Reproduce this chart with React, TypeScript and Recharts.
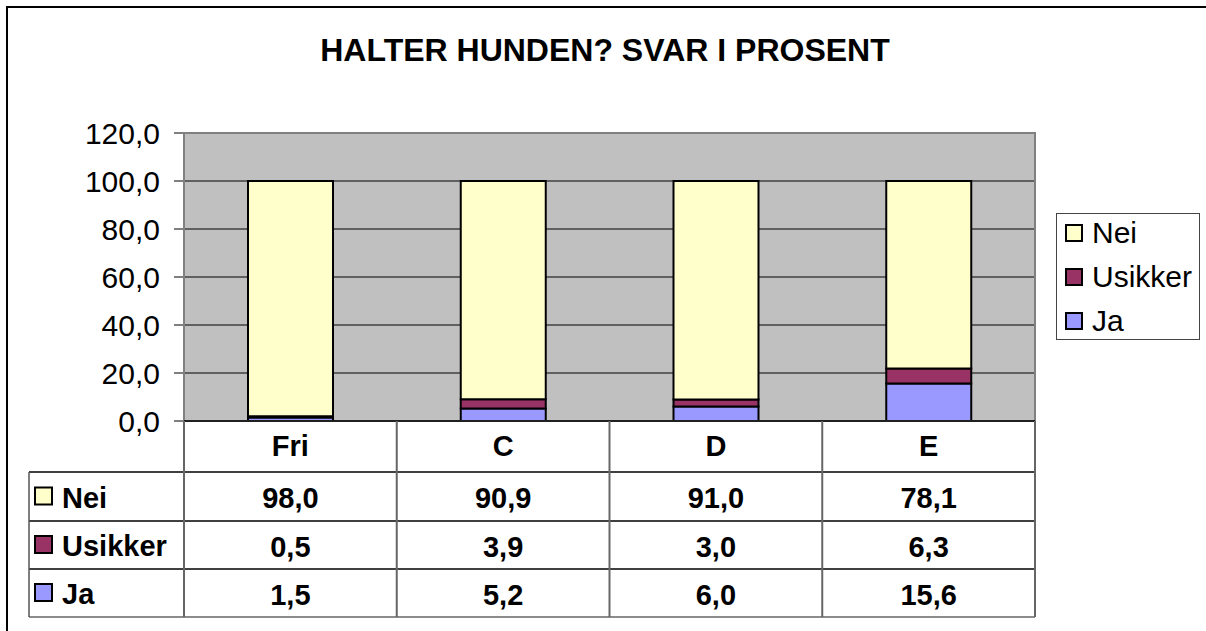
import React from 'react';
import { BarChart, Bar, XAxis, YAxis, CartesianGrid, Legend } from 'recharts';

const categories = ['Fri', 'C', 'D', 'E'];
const neiValues = [98.0, 90.9, 91.0, 78.1];
const usikkerValues = [0.5, 3.9, 3.0, 6.3];
const jaValues = [1.5, 5.2, 6.0, 15.6];
const yTicks = [0, 20, 40, 60, 80, 100, 120];

// stacked bottom -> top
const series = [
  { key: 'ja', name: 'Ja', color: '#9999ff', values: jaValues },
  { key: 'usikker', name: 'Usikker', color: '#993366', values: usikkerValues },
  { key: 'nei', name: 'Nei', color: '#ffffcc', values: neiValues },
];

const data = categories.map((name, i) => {
  const row: Record<string, string | number> = { name };
  series.forEach((s) => (row[s.key] = s.values[i]));
  return row;
});

const W = 1206;
const H = 631;
const PLOT = { left: 184, right: 1035, top: 133, bottom: 421 };
const TABLE_LEFT = 29;
const ROW_LINES = [472, 521, 569, 617];
const FONT = '"Liberation Sans", Arial, sans-serif';
const BOLD_SIZE = 29;
const TEXT_SIZE = 30;

const fmt = (v: number) => v.toFixed(1).replace('.', ',');

// table rows in display order (top -> bottom)
const tableRows = [...series].reverse();

const TableTick = (props: any) => {
  const { x, payload } = props;
  const idx = categories.indexOf(payload.value);
  return (
    <g>
      <text x={x} y={456} textAnchor="middle" fontSize={BOLD_SIZE} fontWeight="bold" fill="#000" fontFamily={FONT}>
        {payload.value}
      </text>
      {tableRows.map((s, r) => (
        <text
          key={s.key}
          x={x}
          y={(ROW_LINES[r] + ROW_LINES[r + 1]) / 2 + 11.5}
          textAnchor="middle"
          fontSize={BOLD_SIZE}
          fontWeight="bold"
          fill="#000"
          fontFamily={FONT}
        >
          {fmt(s.values[idx])}
        </text>
      ))}
    </g>
  );
};

const LegendBox = () => (
  <div
    style={{
      position: 'relative',
      width: 144,
      height: 127,
      border: '1px solid #444',
      background: '#fff',
      boxSizing: 'border-box',
      fontFamily: FONT,
      fontSize: TEXT_SIZE,
    }}
  >
    {tableRows.map((s, i) => (
      <div
        key={s.key}
        style={{
          position: 'absolute',
          left: 8,
          top: 19 + i * 44 - 22,
          height: 44,
          display: 'flex',
          alignItems: 'center',
          whiteSpace: 'nowrap',
        }}
      >
        <span
          style={{
            width: 18,
            height: 18,
            boxSizing: 'border-box',
            border: '2px solid #000',
            background: s.color,
            marginRight: 9,
          }}
        />
        <span>{s.name}</span>
      </div>
    ))}
  </div>
);

export default function App() {
  const colEdges = [0, 1, 2, 3, 4].map((i) => PLOT.left + ((PLOT.right - PLOT.left) * i) / categories.length);
  return (
    <div style={{ position: 'absolute', left: 0, top: 0, width: W, height: H, background: '#fff', fontFamily: FONT }}>
      <BarChart
        width={W}
        height={H}
        data={data}
        margin={{ top: PLOT.top, right: W - PLOT.right, left: 0, bottom: 0 }}
        barSize={85}
      >
        <CartesianGrid vertical={false} fill="#c0c0c0" stroke="#000" strokeWidth={1} />
        <XAxis
          dataKey="name"
          height={H - PLOT.bottom}
          axisLine={false}
          tickLine={false}
          interval={0}
          tick={<TableTick />}
        />
        <YAxis
          width={PLOT.left}
          domain={[0, 120]}
          ticks={yTicks}
          tickFormatter={fmt}
          axisLine={false}
          tickSize={10}
          tickMargin={14}
          tickLine={{ stroke: '#000' }}
          tick={{ fill: '#000', fontSize: TEXT_SIZE, fontFamily: FONT }}
        />
        <Legend
          layout="horizontal"
          verticalAlign="middle"
          align="center"
          content={<LegendBox />}
          wrapperStyle={{ left: 1056, top: 213, width: 144, height: 127 }}
        />
        {series.map((s) => (
          <Bar
            key={s.key}
            dataKey={s.key}
            name={s.name}
            stackId="a"
            fill={s.color}
            stroke="#000"
            strokeWidth={2}
            isAnimationActive={false}
          />
        ))}
      </BarChart>

      <svg
        width={W}
        height={H}
        style={{ position: 'absolute', left: 0, top: 0, pointerEvents: 'none' }}
      >
        {/* outer chart frame */}
        <rect x={7} y={7} width={W + 20} height={H + 20} fill="none" stroke="#000" strokeWidth={2} />
        <text x={605} y={61} textAnchor="middle" fontSize={32} fontWeight="bold" fontFamily={FONT} fill="#000">
          HALTER HUNDEN? SVAR I PROSENT
        </text>

        {/* plot border */}
        <rect
          x={PLOT.left}
          y={PLOT.top}
          width={PLOT.right - PLOT.left}
          height={PLOT.bottom - PLOT.top}
          fill="none"
          stroke="#808080"
          strokeWidth={2}
        />
        <line x1={PLOT.left} x2={PLOT.right} y1={PLOT.bottom} y2={PLOT.bottom} stroke="#000" strokeWidth={1.5} />

        {/* data table grid */}
        {ROW_LINES.map((y, i) => (
          <line key={y} x1={TABLE_LEFT} x2={PLOT.right} y1={y} y2={y} stroke={i === 3 ? '#666' : '#000'} strokeWidth={1.5} />
        ))}
        {colEdges.map((x, i) => (
          <line key={i} x1={x} x2={x} y1={PLOT.bottom} y2={ROW_LINES[3]} stroke="#666" strokeWidth={2} />
        ))}
        <line x1={TABLE_LEFT} x2={TABLE_LEFT} y1={ROW_LINES[0]} y2={ROW_LINES[3]} stroke="#555" strokeWidth={1.5} />
        {tableRows.map((s, r) => {
          const cy = (ROW_LINES[r] + ROW_LINES[r + 1]) / 2;
          return (
            <g key={s.key}>
              <rect x={35} y={cy - 9} width={17} height={17} fill={s.color} stroke="#000" strokeWidth={2} />
              <text x={62} y={cy + 11} fontSize={BOLD_SIZE} fontWeight="bold" fontFamily={FONT} fill="#000">
                {s.name}
              </text>
            </g>
          );
        })}
      </svg>
    </div>
  );
}
